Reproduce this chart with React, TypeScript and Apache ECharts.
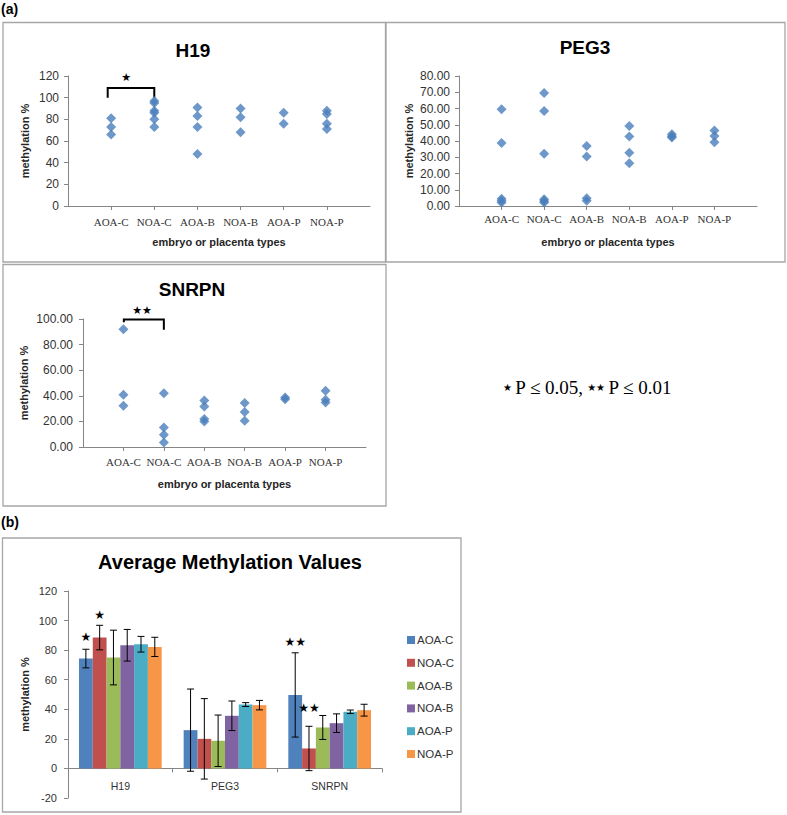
import React, { useEffect, useRef } from "react";
import * as echarts from "echarts";

// ---------- data ----------
const categories = ["AOA-C", "NOA-C", "AOA-B", "NOA-B", "AOA-P", "NOA-P"];

// panel (a): individual methylation % per group
const h19Values: number[][] = [
  [81, 73, 66],
  [97, 95, 88, 86, 80, 73],
  [91, 83, 73, 48],
  [90, 82, 68],
  [86, 76],
  [88, 85, 76, 71],
];
const peg3Values: number[][] = [
  [59.5, 38.7, 4.5, 3.2, 2.2],
  [69.5, 58.5, 32.2, 4.2, 3.1, 2.2],
  [37, 30.5, 4.8, 3.2],
  [49.2, 42.7, 32.8, 26.3],
  [44.2, 43, 42.2],
  [46.4, 43.1, 39.2],
];
const snrpnValues: number[][] = [
  [92, 40.8, 32.2],
  [42, 15.3, 9.6, 3.6],
  [36.4, 31.7, 21.8, 20],
  [34.3, 27.3, 20.5],
  [38.7, 37.4],
  [43.9, 36.9, 34.8],
];
const h19Ticks = [0, 20, 40, 60, 80, 100, 120];
const peg3Ticks = [0, 10, 20, 30, 40, 50, 60, 70, 80];
const snrpnTicks = [0, 20, 40, 60, 80, 100];

// significance brackets: [xStart, xEnd, yTop, yLeftEnd, yRightEnd, starX, starY]
const h19Bracket = [0.92, 2, 109, 100, 100, 1.35, 119];
const h19BracketLabel = "★";
const snrpnBracket = [1.01, 2, 99.7, 97.4, 91.6, 1.46, 106.5];
const snrpnBracketLabel = "★★";

// panel (b): averages with error (±)
const genes = ["H19", "PEG3", "SNRPN"];
const aoacMeans = [74.3, 25.9, 49.7];
const aoacErr = [6.3, 27.8, 28.5];
const noacMeans = [88.5, 20.0, 13.5];
const noacErr = [8.3, 27.2, 15.0];
const aoabMeans = [75.0, 18.7, 27.7];
const aoabErr = [18.5, 17.4, 8.1];
const noabMeans = [83.3, 35.6, 30.6];
const noabErr = [10.7, 10.0, 6.3];
const aoapMeans = [84.0, 43.2, 38.3];
const aoapErr = [5.3, 1.3, 1.2];
const noapMeans = [82.2, 42.8, 39.4];
const noapErr = [6.5, 3.2, 4.0];
const barTicks = [-20, 0, 20, 40, 60, 80, 100, 120];

// stars above bars: [geneIndex, groupIndex, yValue]
const barStarPositions = [
  [0, 0, 89],
  [0, 1, 104],
  [2, 0, 85.6],
  [2, 1, 41],
];
const barStarLabels = ["★", "★", "★★", "★★"];

const seriesMeans = [aoacMeans, noacMeans, aoabMeans, noabMeans, aoapMeans, noapMeans];
const seriesErr = [aoacErr, noacErr, aoabErr, noabErr, aoapErr, noapErr];
const colors = ["#4F81BD", "#C0504D", "#9BBB59", "#8064A2", "#4BACC6", "#F79646"];
const BAR_CAT_GAP = 0.21;

const AXIS_COLOR = "#868686";
const SANS = "Liberation Sans";
const SERIF = "Liberation Serif";

const BAR_GRID = { left: 68, top: 591, width: 314, height: 207 };

function scatterData(values: number[][]) {
  const out: number[][] = [];
  values.forEach((arr, i) => arr.forEach((v) => out.push([i + 1, v])));
  return out;
}

function scatterXAxis(gridIndex: number, margin: number, nameGap: number) {
  return {
    gridIndex,
    type: "value",
    min: 0,
    max: 7,
    interval: 1,
    axisLine: { show: true, onZero: false, lineStyle: { color: AXIS_COLOR, width: 1 } },
    axisTick: { show: true, length: 4, lineStyle: { color: AXIS_COLOR } },
    splitLine: { show: false },
    axisLabel: {
      formatter: (v: number) => categories[v - 1] ?? "",
      fontFamily: SERIF,
      fontSize: 11,
      color: "#333",
      margin,
      showMinLabel: false,
      showMaxLabel: false,
    },
    name: "embryo or placenta types",
    nameLocation: "middle",
    nameGap,
    nameTextStyle: { fontFamily: SANS, fontWeight: "bold", fontSize: 11, color: "#262626" },
  };
}

function yAxisDef(gridIndex: number, ticks: number[], decimals: number, fontSize: number, margin: number, nameGap: number) {
  return {
    gridIndex,
    type: "value",
    min: ticks[0],
    max: ticks[ticks.length - 1],
    interval: ticks[1] - ticks[0],
    axisLine: { show: true, onZero: false, lineStyle: { color: AXIS_COLOR, width: 1 } },
    axisTick: { show: true, length: 4, lineStyle: { color: AXIS_COLOR } },
    splitLine: { show: false },
    axisLabel: {
      formatter: (v: number) => v.toFixed(decimals),
      fontFamily: SANS,
      fontSize,
      color: "#333",
      margin,
    },
    name: "methylation %",
    nameLocation: "middle",
    nameGap,
    nameTextStyle: { fontFamily: SANS, fontWeight: "bold", fontSize: 11, color: "#262626" },
  };
}

function bracketSeries(axisIndex: number, bracket: number[], label: string) {
  return {
    type: "custom",
    xAxisIndex: axisIndex,
    yAxisIndex: axisIndex,
    silent: true,
    clip: false,
    data: [bracket],
    encode: { x: 0, y: 2 },
    renderItem: (_p: any, api: any) => {
      const l = api.coord([api.value(0), api.value(3)]);
      const lt = api.coord([api.value(0), api.value(2)]);
      const rt = api.coord([api.value(1), api.value(2)]);
      const r = api.coord([api.value(1), api.value(4)]);
      const s = api.coord([api.value(5), api.value(6)]);
      return {
        type: "group",
        children: [
          {
            type: "polyline",
            shape: { points: [l, lt, rt, r] },
            style: { stroke: "#000", lineWidth: 2, fill: "none" },
          },
          {
            type: "text",
            style: {
              text: label,
              x: s[0],
              y: s[1],
              align: "center",
              verticalAlign: "middle",
              fontSize: 11,
              fontFamily: "DejaVu Sans",
              fill: "#000",
            },
          },
        ],
      };
    },
  };
}

function boxRect(x: number, y: number, w: number, h: number) {
  return {
    type: "rect",
    shape: { x, y, width: w, height: h },
    style: { fill: "none", stroke: "#A6A6A6", lineWidth: 1.3 },
    silent: true,
  };
}

function titleText(text: string, x: number, y: number, size: number) {
  return {
    type: "text",
    x,
    y,
    style: {
      text,
      align: "center",
      verticalAlign: "middle",
      fontFamily: SANS,
      fontWeight: "bold",
      fontSize: size,
      fill: "#000",
    },
  };
}

export default function App() {
  const ref = useRef<HTMLDivElement>(null);
  useEffect(() => {
    document.body.style.margin = "0";
    const chart = echarts.init(ref.current!, null, { renderer: "svg" });

    const errData: number[][] = [];
    seriesMeans.forEach((means, s) =>
      means.forEach((m, g) => errData.push([g, s, m, seriesErr[s][g]]))
    );

    const barSeries = categories.map((name, s) => ({
      type: "bar",
      name,
      xAxisIndex: 3,
      yAxisIndex: 3,
      data: seriesMeans[s],
      barGap: "0%",
      barCategoryGap: BAR_CAT_GAP * 100 + "%",
      itemStyle: { color: colors[s] },
    }));

    const groupX = (api: any, g: number, s: number, v: number) => {
      const c = api.coord([g, v]);
      const band = api.size([1, 0])[0];
      const groupW = band * (1 - BAR_CAT_GAP);
      const bw = groupW / 6;
      return [c[0] - groupW / 2 + bw * (s + 0.5), c[1]];
    };

    // place the category axis on the zero line of the value axis
    const barMin = barTicks[0];
    const barMax = barTicks[barTicks.length - 1];
    const zeroOffset = -BAR_GRID.height * ((0 - barMin) / (barMax - barMin));

    const option: any = {
      animation: false,
      backgroundColor: "#fff",
      grid: [
        { left: 68, top: 76, width: 302, height: 130 },
        { left: 459, top: 76, width: 298, height: 130 },
        { left: 83, top: 319, width: 283, height: 128 },
        BAR_GRID,
      ],
      xAxis: [
        scatterXAxis(0, 10, 30),
        scatterXAxis(1, 7, 30),
        scatterXAxis(2, 9, 31),
        {
          gridIndex: 3,
          type: "category",
          data: genes,
          offset: zeroOffset,
          axisLine: { show: true, onZero: false, lineStyle: { color: AXIS_COLOR } },
          axisTick: { show: true, length: 4, lineStyle: { color: AXIS_COLOR } },
          axisLabel: { fontFamily: SANS, fontSize: 10.5, color: "#333", margin: 12 },
        },
      ],
      yAxis: [
        yAxisDef(0, h19Ticks, 0, 12, 9, 38),
        yAxisDef(1, peg3Ticks, 2, 12, 9, 45),
        yAxisDef(2, snrpnTicks, 2, 12, 10, 54),
        yAxisDef(3, barTicks, 0, 11, 11, 38),
      ],
      legend: {
        data: categories,
        orient: "vertical",
        left: 402,
        top: 629,
        itemWidth: 8,
        itemHeight: 8,
        itemGap: 10.8,
        icon: "rect",
        selectedMode: false,
        textStyle: { fontFamily: SANS, fontSize: 11.5, color: "#333", padding: [0, 0, 0, -3] },
      },
      series: [
        {
          type: "scatter",
          xAxisIndex: 0,
          yAxisIndex: 0,
          data: scatterData(h19Values),
          symbol: "diamond",
          symbolSize: 10,
          itemStyle: { color: "#4A7EBB" },
        },
        {
          type: "scatter",
          xAxisIndex: 1,
          yAxisIndex: 1,
          data: scatterData(peg3Values),
          symbol: "diamond",
          symbolSize: 10,
          itemStyle: { color: "#4A7EBB" },
        },
        {
          type: "scatter",
          xAxisIndex: 2,
          yAxisIndex: 2,
          data: scatterData(snrpnValues),
          symbol: "diamond",
          symbolSize: 10,
          itemStyle: { color: "#4A7EBB" },
        },
        bracketSeries(0, h19Bracket, h19BracketLabel),
        bracketSeries(2, snrpnBracket, snrpnBracketLabel),
        ...barSeries,
        {
          type: "custom",
          name: "error",
          xAxisIndex: 3,
          yAxisIndex: 3,
          silent: true,
          clip: false,
          data: errData,
          encode: { x: 0, y: 2 },
          z: 5,
          renderItem: (_p: any, api: any) => {
            const g = api.value(0);
            const s = api.value(1);
            const m = api.value(2);
            const e = api.value(3);
            const top = groupX(api, g, s, m + e);
            const bot = groupX(api, g, s, m - e);
            const x = top[0];
            const cap = 3.5;
            const st = { stroke: "#000", lineWidth: 1 };
            return {
              type: "group",
              children: [
                { type: "line", shape: { x1: x, y1: top[1], x2: x, y2: bot[1] }, style: st },
                { type: "line", shape: { x1: x - cap, y1: top[1], x2: x + cap, y2: top[1] }, style: st },
                { type: "line", shape: { x1: x - cap, y1: bot[1], x2: x + cap, y2: bot[1] }, style: st },
              ],
            };
          },
        },
        {
          type: "custom",
          name: "stars",
          xAxisIndex: 3,
          yAxisIndex: 3,
          silent: true,
          clip: false,
          data: barStarPositions,
          encode: { x: 0, y: 2 },
          z: 6,
          renderItem: (p: any, api: any) => {
            const pt = groupX(api, api.value(0), api.value(1), api.value(2));
            return {
              type: "text",
              style: {
                text: barStarLabels[p.dataIndex],
                x: pt[0],
                y: pt[1],
                align: "center",
                verticalAlign: "middle",
                fontFamily: "DejaVu Sans",
                fontSize: 12,
                fill: "#000",
              },
            };
          },
        },
      ],
      graphic: [
        boxRect(3, 22.5, 382.5, 239.5),
        boxRect(386, 22.5, 399, 239.5),
        boxRect(3, 264.5, 383, 241.5),
        boxRect(2.5, 538, 458.5, 274),
        {
          type: "text",
          x: 1,
          y: 9,
          style: { text: "(a)", fontFamily: SANS, fontWeight: "bold", fontSize: 14, fill: "#000", verticalAlign: "middle" },
        },
        {
          type: "text",
          x: 1,
          y: 522,
          style: { text: "(b)", fontFamily: SANS, fontWeight: "bold", fontSize: 14, fill: "#000", verticalAlign: "middle" },
        },
        titleText("H19", 193, 50, 19),
        titleText("PEG3", 585, 47, 19),
        titleText("SNRPN", 192, 289, 19),
        titleText("Average Methylation Values", 230, 562, 20),
        {
          type: "text",
          x: 503,
          y: 387,
          style: {
            text: "{s|★} {t|P ≤ 0.05,} {s|★★} {t|P ≤ 0.01}",
            verticalAlign: "middle",
            rich: {
              s: { fontFamily: "DejaVu Sans", fontSize: 10, fill: "#000", verticalAlign: "middle" },
              t: { fontFamily: SERIF, fontSize: 19, fill: "#000", verticalAlign: "middle" },
            },
          },
        },
      ],
    };
    chart.setOption(option);
    return () => chart.dispose();
  }, []);
  return <div ref={ref} style={{ width: 787, height: 815 }} />;
}
